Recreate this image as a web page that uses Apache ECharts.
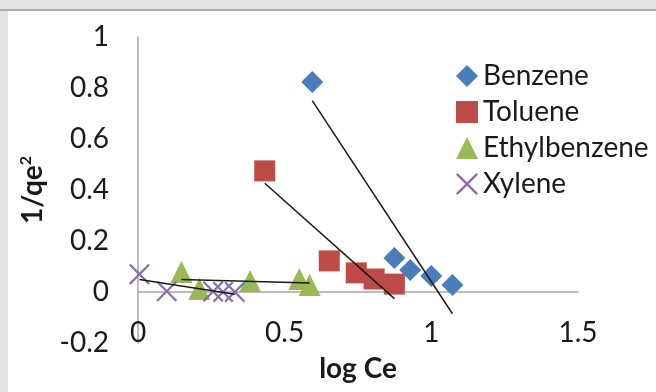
<!DOCTYPE html>
<html>
<head>
<meta charset="utf-8">
<script src="https://cdn.jsdelivr.net/npm/echarts@6/dist/echarts.min.js"></script>
<style>
  html, body { margin: 0; padding: 0; background: #e3e3e3; }
  #chart { width: 656px; height: 392px; }
</style>
</head>
<body>
<div id="chart"></div>
<script>
// Adsorption isotherm data: log Ce versus 1/qe^2 for each BTEX compound
const seriesNames = ['Benzene', 'Toluene', 'Ethylbenzene', 'Xylene'];

const benzeneX = [0.594, 0.874, 0.928, 1.000, 1.072];
const benzeneY = [0.824, 0.133, 0.086, 0.063, 0.027];

const tolueneX = [0.432, 0.652, 0.744, 0.805, 0.874];
const tolueneY = [0.475, 0.122, 0.075, 0.051, 0.031];

const ethylbenzeneX = [0.148, 0.209, 0.382, 0.550, 0.585];
const ethylbenzeneY = [0.078, 0.012, 0.043, 0.051, 0.027];

const xyleneX = [0.005, 0.098, 0.256, 0.290, 0.330];
const xyleneY = [0.070, 0.003, 0.002, 0.000, 0.000];

const xTicks = { min: 0, max: 1.5, step: 0.5 };
const yTicks = { min: -0.2, max: 1, step: 0.2 };

const colors = ['#4a7ebb', '#be4b48', '#98b954', '#8a6db0'];
const FONT = 'Lato';

// X-shaped marker drawn as a filled outline
const crossSymbol = 'path://M0,1.5 L1.5,0 L10,8.5 L18.5,0 L20,1.5 L11.5,10 L20,18.5 L18.5,20 L10,11.5 L1.5,20 L0,18.5 L8.5,10 Z';
const symbols = ['diamond', 'rect', 'triangle', crossSymbol];
const symbolSizes = [22, 21, 22, 21];

const xs = [benzeneX, tolueneX, ethylbenzeneX, xyleneX];
const ys = [benzeneY, tolueneY, ethylbenzeneY, xyleneY];

function pairs(x, y) { return x.map((v, i) => [v, y[i]]); }

// Least-squares linear trendline across the range of the points
function trend(x, y) {
  const n = x.length;
  const mx = x.reduce((a, b) => a + b, 0) / n;
  const my = y.reduce((a, b) => a + b, 0) / n;
  let sxy = 0, sxx = 0;
  for (let i = 0; i < n; i++) {
    sxy += (x[i] - mx) * (y[i] - my);
    sxx += (x[i] - mx) * (x[i] - mx);
  }
  const slope = sxy / sxx;
  const lo = Math.min(...x), hi = Math.max(...x);
  return [[lo, my + slope * (lo - mx)], [hi, my + slope * (hi - mx)]];
}

const series = [];
seriesNames.forEach((name, i) => {
  series.push({
    name: name,
    type: 'scatter',
    data: pairs(xs[i], ys[i]),
    symbol: symbols[i],
    symbolSize: symbolSizes[i],
    itemStyle: { color: colors[i], opacity: 1 },
    z: 3
  });
});
seriesNames.forEach((name, i) => {
  series.push({
    name: name + ' trend',
    type: 'line',
    data: trend(xs[i], ys[i]),
    showSymbol: false,
    symbol: 'none',
    lineStyle: { color: '#1a1a1a', width: 1.5 },
    z: 5,
    silent: true
  });
});

const chart = echarts.init(document.getElementById('chart'), null, { renderer: 'canvas' });
chart.setOption({
  animation: false,
  backgroundColor: '#e3e3e3',
  graphic: [
    { type: 'rect', shape: { x: 8, y: 11, width: 660, height: 400 }, style: { fill: '#ffffff' }, z: -100 },
    { type: 'line', shape: { x1: 0, y1: 10, x2: 656, y2: 10 }, style: { stroke: '#9a9a9a', lineWidth: 1.5 }, z: -99 }
  ],
  grid: { left: 138, right: 78, top: 37, bottom: 49, containLabel: false, outerBoundsMode: 'none' },
  legend: {
    orient: 'vertical',
    left: 451,
    top: 57,
    itemWidth: 22,
    itemHeight: 22,
    itemGap: 8,
    data: seriesNames,
    textStyle: { fontFamily: FONT, fontSize: 28, color: '#1a1a1a', lineHeight: 28 }
  },
  xAxis: {
    type: 'value',
    min: xTicks.min,
    max: xTicks.max,
    interval: xTicks.step,
    name: 'log Ce',
    nameLocation: 'middle',
    nameGap: 12,
    nameTextStyle: { fontFamily: FONT, fontSize: 28, fontWeight: 'bold', color: '#1a1a1a' },
    axisLine: { onZero: true, lineStyle: { color: '#a6a6a6', width: 1.5 } },
    axisTick: { show: false },
    splitLine: { show: false },
    axisLabel: { margin: -24, fontFamily: FONT, fontSize: 28, color: '#1a1a1a' }
  },
  yAxis: {
    type: 'value',
    min: yTicks.min,
    max: yTicks.max,
    interval: yTicks.step,
    name: '1/qe{sup|2}',
    nameLocation: 'middle',
    nameRotate: 90,
    nameGap: 90,
    nameTextStyle: {
      fontFamily: FONT, fontSize: 28, fontWeight: 'bold', color: '#1a1a1a',
      rich: { sup: { fontFamily: FONT, fontSize: 16, fontWeight: 'bold', color: '#1a1a1a', verticalAlign: 'top', padding: [0, 0, 14, 0] } }
    },
    axisLine: { show: true, onZero: false, lineStyle: { color: '#a6a6a6', width: 1.5 } },
    axisTick: { show: false },
    splitLine: { show: false },
    axisLabel: { margin: 29, fontFamily: FONT, fontSize: 28, color: '#1a1a1a' }
  },
  series: series
});
</script>
</body>
</html>
